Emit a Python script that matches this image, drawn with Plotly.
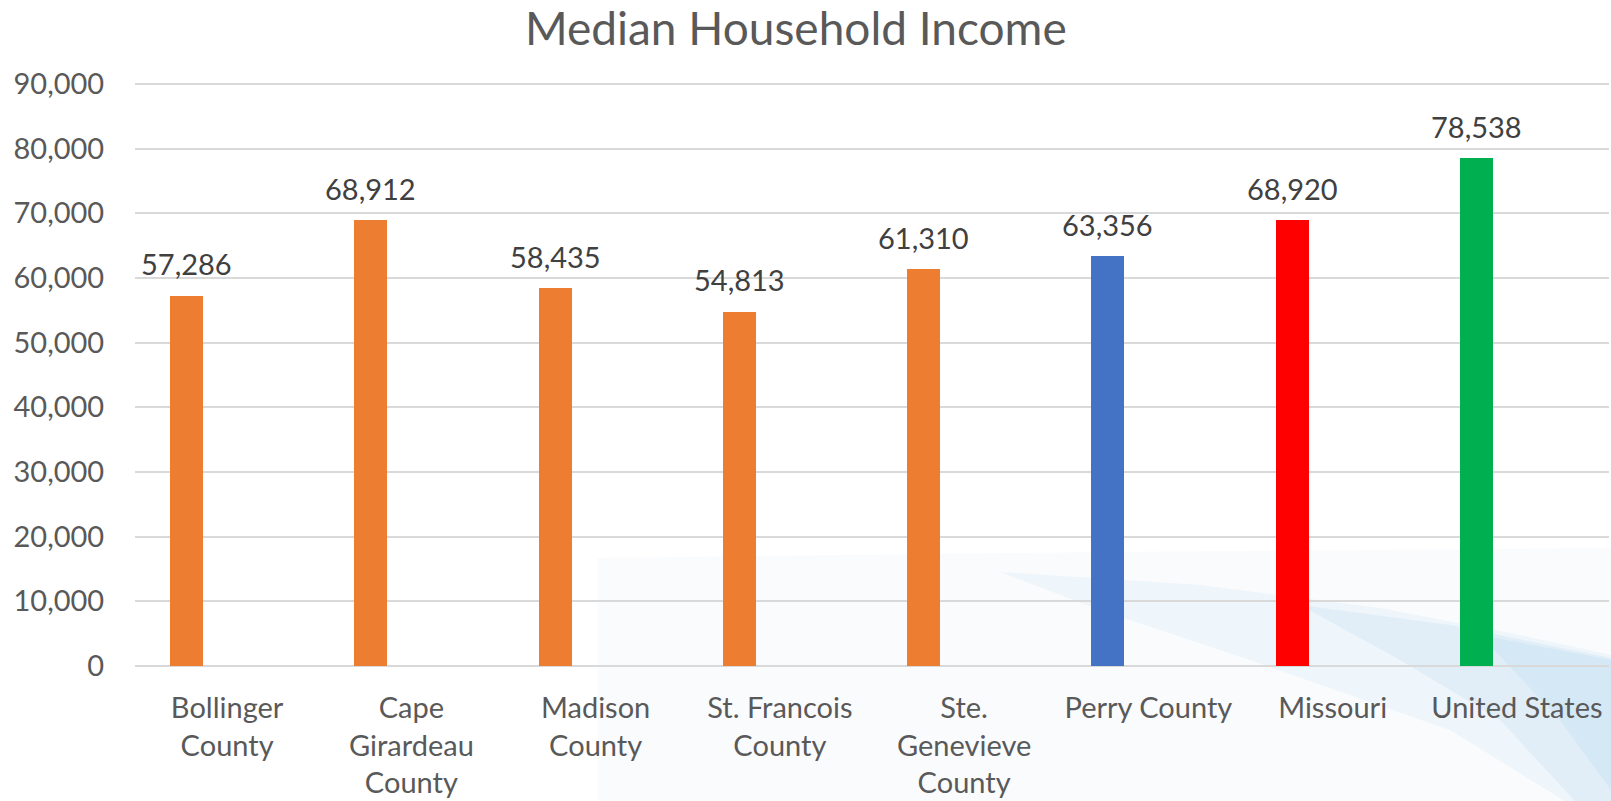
import plotly.graph_objects as go

categories = ["Bollinger<br>County", "Cape<br>Girardeau<br>County", "Madison<br>County",
              "St. Francois<br>County", "Ste.<br>Genevieve<br>County", "Perry County",
              "Missouri", "United States"]
values = [57286, 68912, 58435, 54813, 61310, 63356, 68920, 78538]
colors = ["#ED7D31", "#ED7D31", "#ED7D31", "#ED7D31", "#ED7D31", "#4472C4", "#FF0000", "#00B050"]
y_ticks = [0, 10000, 20000, 30000, 40000, 50000, 60000, 70000, 80000, 90000]

FONT = "Lato"
GREY = "#595959"
W, H = 1611, 801
ML, MR, MT, MB = 135, 2, 82, 135
BAR_W = 0.179
BAR_CENTER = -0.22  # bar sits left of the category centre (fraction of category)

cat_px = (W - ML - MR) / len(categories)


def px(xp, yp):
    """pixel -> paper coordinates (decorative background only)"""
    return (xp - ML) / (W - ML - MR), (H - MB - yp) / (H - MT - MB)


def path(points):
    parts = []
    for i, (a, b) in enumerate(points):
        x, y = px(a, b)
        parts.append(("M" if i == 0 else "L") + f" {x:.4f},{y:.4f}")
    return " ".join(parts) + " Z"


fig = go.Figure()
fig.add_trace(go.Bar(
    x=categories, y=values,
    marker=dict(color=colors, line=dict(width=0)),
    width=BAR_W, offset=BAR_CENTER - BAR_W / 2,
    showlegend=False, hoverinfo="x+y",
))

annotations = [
    dict(x=c, y=v, xref="x", yref="y", text=f"{v:,}", showarrow=False,
         xshift=BAR_CENTER * cat_px, yshift=32, yanchor="middle", xanchor="center",
         font=dict(family=FONT, size=29, color="#404040"))
    for c, v in zip(categories, values)
]

shapes = [
    # very faint light panel
    dict(type="path", xref="paper", yref="paper", layer="below",
         path=path([(598, 558), (1100, 552), (1611, 548), (1611, 801), (598, 801)]),
         fillcolor="rgba(240,244,248,0.35)", line=dict(width=0)),
    # light blue swoosh (layered for a gradient feel)
    dict(type="path", xref="paper", yref="paper", layer="below",
         path=path([(1000, 572), (1200, 585), (1380, 608), (1520, 635), (1611, 655),
                    (1611, 801), (1565, 801), (1450, 730), (1250, 660), (1100, 610)]),
         fillcolor="rgba(214,234,246,0.35)", line=dict(width=0)),
    dict(type="path", xref="paper", yref="paper", layer="below",
         path=path([(1300, 605), (1450, 625), (1611, 658), (1611, 801), (1575, 801),
                    (1500, 720), (1400, 660)]),
         fillcolor="rgba(200,226,242,0.35)", line=dict(width=0)),
    dict(type="path", xref="paper", yref="paper", layer="below",
         path=path([(1480, 635), (1611, 660), (1611, 790), (1560, 720)]),
         fillcolor="rgba(190,222,240,0.35)", line=dict(width=0)),
]

fig.update_layout(
    width=W, height=H,
    paper_bgcolor="white", plot_bgcolor="rgba(0,0,0,0)",
    margin=dict(l=ML, r=MR, t=MT, b=MB, pad=0),
    title=dict(text="Median Household Income", x=0.494, xref="container", xanchor="center",
               y=1 - 29 / H, yref="container", yanchor="middle", automargin=False,
               font=dict(family=FONT, size=46, color=GREY)),
    font=dict(family=FONT, color=GREY),
    bargap=0,
    shapes=shapes,
    annotations=annotations,
)

fig.update_yaxes(
    range=[0, 90300], tickvals=y_ticks, tickformat=",",
    showgrid=True, gridcolor="#D9D9D9", gridwidth=2,
    zeroline=True, zerolinecolor="#D9D9D9", zerolinewidth=2,
    showline=False, automargin=False,
    ticks="outside", ticklen=24, tickcolor="rgba(0,0,0,0)",
    tickfont=dict(family=FONT, size=29, color=GREY),
)
fig.update_xaxes(
    showgrid=False, showline=False, zeroline=False, automargin=False,
    ticks="outside", ticklen=16, tickcolor="rgba(0,0,0,0)",
    tickfont=dict(family=FONT, size=29, color=GREY),
    tickangle=0,
)

fig.write_html(
    "out.html",
    config={"displayModeBar": False},
    post_script="document.body.style.margin='0';document.body.style.overflow='hidden';",
)
